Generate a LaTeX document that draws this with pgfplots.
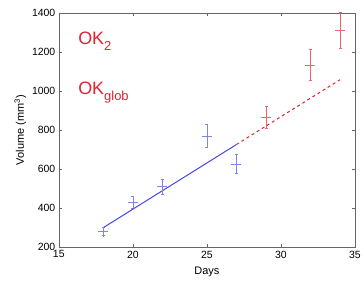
\documentclass[border=0pt]{standalone}
\usepackage{pgfplots}
\pgfplotsset{compat=1.18}
\usepackage{fontspec}
\setmainfont{Liberation Sans}
\definecolor{mblue}{RGB}{70,70,230}
\definecolor{mbluel}{RGB}{130,130,235}
\definecolor{mred}{RGB}{230,30,45}
\definecolor{mredl}{RGB}{235,100,110}
\newcommand{\sub}[1]{\raisebox{-0.32em}{\fontsize{13}{14}\selectfont #1}}
\begin{document}
\begin{tikzpicture}[x=1pt,y=1pt]
\begin{axis}[
  scale only axis, width=297pt, height=235pt,
  xmin=15, xmax=35, ymin=200, ymax=1400,
  xtick={15,20,25,30,35}, ytick={200,400,...,1400},
  tick align=inside, major tick length=3pt,
  axis line style={gray!80!black, line width=0.5pt},
  tick style={gray!80!black, line width=0.4pt},
  ticklabel style={font=\fontsize{10.5}{11}\selectfont},
  /pgf/number format/assume math mode=true,
  /pgf/number format/1000 sep={},
  xlabel={Days}, ylabel={Volume (mm\textsuperscript{3})},
  label style={font=\fontsize{11}{12}\selectfont},
  xlabel style={yshift=-2pt},
  ylabel style={yshift=-1pt},
  clip=false,
]
\addplot[mbluel, only marks, mark=+, mark size=5pt, line width=0.5pt,
  error bars/.cd, y dir=both, y explicit,
  error bar style={mbluel, line width=0.5pt}, error mark options={mark size=1.5pt, rotate=90}]
  coordinates {
  (18,280) +- (0,20)
  (20,431) +- (0,30)
  (22,510) +- (0,40)
  (25,770) +- (0,58)
  (27,627) +- (0,48)
};
\addplot[mredl, only marks, mark=+, mark size=5pt, line width=0.5pt,
  error bars/.cd, y dir=both, y explicit,
  error bar style={mredl, line width=0.5pt}, error mark options={mark size=1.5pt, rotate=90}]
  coordinates {
  (29,867) +- (0,55)
  (32,1133) +- (0,80)
  (34,1310) +- (0,92)
};
\addplot[mblue, line width=1pt] coordinates {(18,300) (27,726)};
\addplot[mred, dashed, line width=1pt] coordinates {(27,726) (34,1058)};
\node[anchor=base west, text=mred, font=\fontsize{18}{20}\selectfont, inner sep=0pt] at (axis cs:16.3,1237) {OK\sub{2}};
\node[anchor=base west, text=mred, font=\fontsize{18}{20}\selectfont, inner sep=0pt] at (axis cs:16.3,981) {OK\sub{glob}};
\end{axis}
\path ([shift={(-59pt,-43pt)}]current axis.south west) -- ([shift={(8pt,13pt)}]current axis.north east);
\end{tikzpicture}
\end{document}
